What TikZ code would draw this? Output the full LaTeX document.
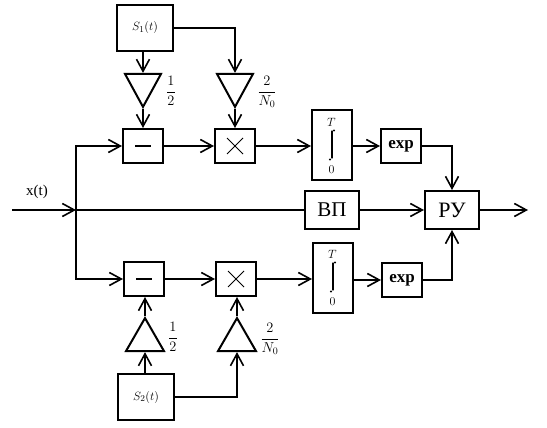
\documentclass[tikz,border=0pt]{standalone}
\usepackage{fontspec}
\setmainfont{Liberation Serif}
\usetikzlibrary{arrows.meta,shapes.geometric}
\tikzset{
  x=1pt,y=-1pt,
  every path/.style={line width=2pt},
  >={Straight Barb[length=12pt,width=13pt,line width=1.6pt]},
  blk/.style={draw,rectangle,inner sep=0pt,minimum width=40pt,minimum height=34pt,line width=2pt},
  tridown/.style={draw,isosceles triangle,isosceles triangle apex angle=57,isosceles triangle stretches,shape border rotate=-90,minimum width=36pt,minimum height=33pt,inner sep=0pt,line width=2pt,anchor=apex},
  triup/.style={tridown,shape border rotate=90,minimum width=38pt,anchor=apex},
  lbl/.style={inner sep=0pt,font=\fontsize{15}{15}\selectfont},
  flbl/.style={inner sep=0pt,font=\fontsize{14}{14}\selectfont},
  tlbl/.style={inner sep=0pt,font=\fontsize{12}{12}\selectfont},
  srclbl/.style={font=\fontsize{13}{13}\selectfont},
  sym/.style={line width=1pt},
  intsym/.style={line width=1.2pt,line cap=round},
}
\begin{document}
\begin{tikzpicture}
\useasboundingbox (0,0) rectangle (547,428);
% sources
\node[blk,srclbl,minimum width=56pt,minimum height=46pt] (s1) at (145,28) {$S_1(t)$};
\node[blk,srclbl,minimum width=56pt,minimum height=46pt] (s2) at (146,397) {$S_2(t)$};
% triangles
\node[tridown] (t1) at (143,109) {};
\node[tridown] (t2) at (235,109) {};
\node[triup] (t3) at (145,316) {};
\node[triup] (t4) at (237,316) {};
% top row
\node[blk] (m1) at (143,146) {};
\node[blk] (x1) at (235,146) {};
\node[blk,minimum height=70pt] (i1) at (332,145) {};
\node[blk,font=\fontsize{17}{17}\selectfont\bfseries] (e1) at (401,146) {exp};
% middle
\node[blk,minimum width=54pt,minimum height=38pt,font=\fontsize{21}{21}\selectfont] (vp) at (332,210) {ВП};
\node[blk,minimum width=54pt,minimum height=38pt,font=\fontsize{22}{22}\selectfont] (ru) at (452,210) {РУ};
% bottom row
\node[blk] (m2) at (144,279) {};
\node[blk] (x2) at (236,279) {};
\node[blk,minimum height=70pt] (i2) at (333,278) {};
\node[blk,font=\fontsize{17}{17}\selectfont\bfseries] (e2) at (402,280) {exp};
% symbols
\draw[line width=2pt] ([xshift=-8pt]m1.center) -- ([xshift=8pt]m1.center);
\draw[line width=2pt] ([xshift=-8pt]m2.center) -- ([xshift=8pt]m2.center);
\draw[sym] ([shift={(-8,-8)}]x1.center) -- ([shift={(8,8)}]x1.center);
\draw[sym] ([shift={(-8,8)}]x1.center) -- ([shift={(8,-8)}]x1.center);
\draw[sym] ([shift={(-8,-8)}]x2.center) -- ([shift={(8,8)}]x2.center);
\draw[sym] ([shift={(-8,8)}]x2.center) -- ([shift={(8,-8)}]x2.center);
% integrators
\node[tlbl] (i1t) at (331.5,122) {$T$};
\node[tlbl] (i1b) at (331.5,169.5) {$0$};
\node[tlbl] (i2t) at (332.5,254) {$T$};
\node[tlbl] (i2b) at (332.5,301.5) {$0$};
\draw[intsym] (332,131) -- (332,158);
\fill (334,130.5) circle (1.2pt) (330,159.5) circle (1.2pt);
\draw[intsym] (333,263) -- (333,290);
\fill (335,262.5) circle (1.2pt) (331,291.5) circle (1.2pt);
% labels
\node[lbl] (xt) at (37,192) {x(t)};
\node[flbl] (f1) at (171,91) {$\displaystyle\frac{1}{2}$};
\node[flbl] (f2) at (267,92) {$\displaystyle\frac{2}{N_0}$};
\node[flbl] (f3) at (173,337) {$\displaystyle\frac{1}{2}$};
\node[flbl] (f4) at (270,339) {$\displaystyle\frac{2}{N_0}$};
% connectors
\coordinate (in) at (12,210);
\coordinate (j) at (76,210);
\coordinate (out) at (528,210);
\draw[->] (in) -- (j);
\draw (j) -- (vp.west);
\draw[->] (j) |- (m1.west);
\draw[->] (j) |- (m2.west);
\draw[->] (m1) -- (x1);
\draw[->] (x1.east) -- (i1.west |- x1.east);
\draw[->] (i1.east |- e1.west) -- (e1.west);
\draw[->] (e1.east) -| (ru.north);
\draw[->] (vp) -- (ru);
\draw[->] (ru) -- (out);
\draw[->] (m2) -- (x2);
\draw[->] (x2.east) -- (i2.west |- x2.east);
\draw[->] (i2.east |- e2.west) -- (e2.west);
\draw[->] (e2.east) -| (ru.south);
\draw[->] (t1.apex |- s1.south) -- (t1.apex |- t1.north);
\draw[->] (s1.east) -| (t2.apex |- t2.north);
\draw[->] (t1.apex) -- (t1.apex |- m1.north);
\draw[->] (t2.apex) -- (t2.apex |- x1.north);
\draw[->] (t3.apex |- s2.north) -- (t3.apex |- t3.south);
\draw[->] (s2.east) -| (t4.apex |- t4.south);
\draw[->] (t3.apex) -- (t3.apex |- m2.south);
\draw[->] (t4.apex) -- (t4.apex |- x2.south);
\end{tikzpicture}
\end{document}
